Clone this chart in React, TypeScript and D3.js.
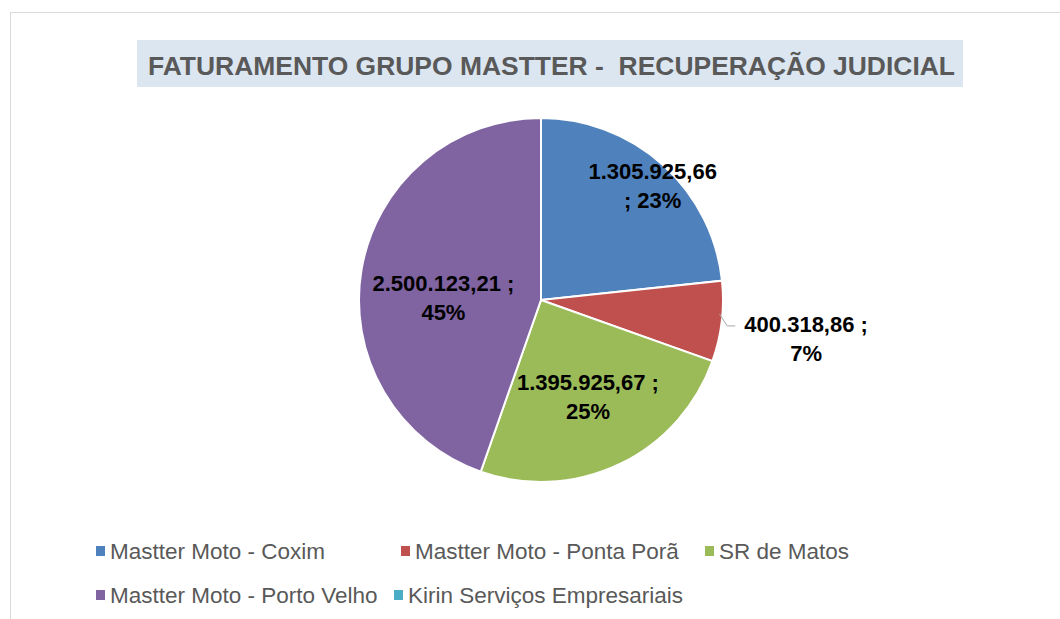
import React, { useEffect, useRef } from 'react';
import * as d3 from 'd3';

const categories = [
  'Mastter Moto - Coxim',
  'Mastter Moto - Ponta Porã',
  'SR de Matos',
  'Mastter Moto - Porto Velho',
  'Kirin Serviços Empresariais',
];
const values = [1305925.66, 400318.86, 1395925.67, 2500123.21, 0];
const colors = ['#4f81bd', '#c0504d', '#9bbb59', '#8064a2', '#4bacc6'];
const titleText = 'FATURAMENTO GRUPO MASTTER -  RECUPERAÇÃO JUDICIAL';

const W = 1060;
const H = 619;

const br = d3.formatLocale({ decimal: ',', thousands: '.', grouping: [3], currency: ['R$', ''] });
const fmtNum = br.format(',.2f');

export default function App() {
  const ref = useRef<SVGSVGElement>(null);

  useEffect(() => {
    const svg = d3.select(ref.current);
    svg.selectAll('*').remove();

    // chart area border
    svg.append('rect')
      .attr('x', 10.5).attr('y', 12.5)
      .attr('width', W + 20).attr('height', H + 20)
      .attr('fill', '#fff')
      .attr('stroke', '#d9d9d9');

    // title
    svg.append('rect')
      .attr('x', 137).attr('y', 40)
      .attr('width', 826).attr('height', 47)
      .attr('fill', '#dce6f1');
    svg.append('text')
      .attr('x', 148).attr('y', 75)
      .attr('font-family', 'Liberation Sans, Arial, sans-serif')
      .attr('font-size', 26)
      .attr('font-weight', 'bold')
      .attr('fill', '#595959')
      .attr('textLength', 807)
      .attr('lengthAdjust', 'spacingAndGlyphs')
      .attr('xml:space', 'preserve')
      .text(titleText);

    const cx = 541, cy = 300, r = 182;
    const data = categories.map((c, i) => ({ name: c, value: values[i], color: colors[i] }));
    const total = d3.sum(values);

    const pie = d3.pie<any>().sort(null).value(d => d.value).startAngle(0).endAngle(2 * Math.PI);
    const arcs = pie(data);
    const arc = d3.arc<any>().innerRadius(0).outerRadius(r);

    const g = svg.append('g').attr('transform', `translate(${cx},${cy})`);
    g.selectAll('path.slice')
      .data(arcs.filter(a => a.data.value > 0))
      .enter().append('path')
      .attr('class', 'slice')
      .attr('d', arc)
      .attr('fill', d => d.data.color)
      .attr('stroke', '#fff')
      .attr('stroke-width', 2);

    // data labels (best fit positions)
    const labelRadius = [167, 267, 109, 99];
    const labelShift = [9, 6, -2, 14];
    const breakBeforeSemi = [true, false, false, false];
    arcs.forEach((a, i) => {
      if (a.data.value <= 0) return;
      const mid = (a.startAngle + a.endAngle) / 2;
      const lr = labelRadius[i];
      const lx = Math.sin(mid) * lr;
      const ly = -Math.cos(mid) * lr + labelShift[i];
      const pct = Math.round((a.data.value / total) * 100) + '%';
      const num = fmtNum(a.data.value);
      const lines = breakBeforeSemi[i] ? [num, '; ' + pct] : [num + ' ;', pct];
      const t = g.append('text')
        .attr('text-anchor', 'middle')
        .attr('font-family', 'Liberation Sans, Arial, sans-serif')
        .attr('font-size', 22)
        .attr('font-weight', 'bold')
        .attr('fill', '#000');
      lines.forEach((ln, k) => {
        t.append('tspan').attr('x', lx).attr('y', ly - 6 + k * 29).text(ln);
      });
      if (i === 1) {
        const p0 = d3.pointRadial(mid - 0.04, r - 3);
        const p1 = d3.pointRadial(mid + 0.02, r + 6);
        g.append('path')
          .attr('d', `M${p0[0]},${p0[1]}L${p1[0]},${p1[1]}L${p1[0] + 8},${p1[1]}`)
          .attr('fill', 'none')
          .attr('stroke', '#a6a6a6')
          .attr('stroke-width', 1);
      }
    });

    // legend
    const legendPos = [[96, 552], [401, 552], [705, 552], [96, 596], [394, 596]];
    const lg = svg.append('g');
    data.forEach((d, i) => {
      const [x, y] = legendPos[i];
      lg.append('rect')
        .attr('x', x).attr('y', y - 6)
        .attr('width', 9).attr('height', 10)
        .attr('fill', d.color);
      lg.append('text')
        .attr('x', x + 14).attr('y', y + 7)
        .attr('font-family', 'Liberation Sans, Arial, sans-serif')
        .attr('font-size', 22.5)
        .attr('fill', '#595959')
        .text(d.name);
    });
  }, []);

  return (
    <div style={{ position: 'absolute', left: 0, top: 0 }}>
      <svg ref={ref} width={W} height={H} style={{ display: 'block' }}></svg>
    </div>
  );
}
